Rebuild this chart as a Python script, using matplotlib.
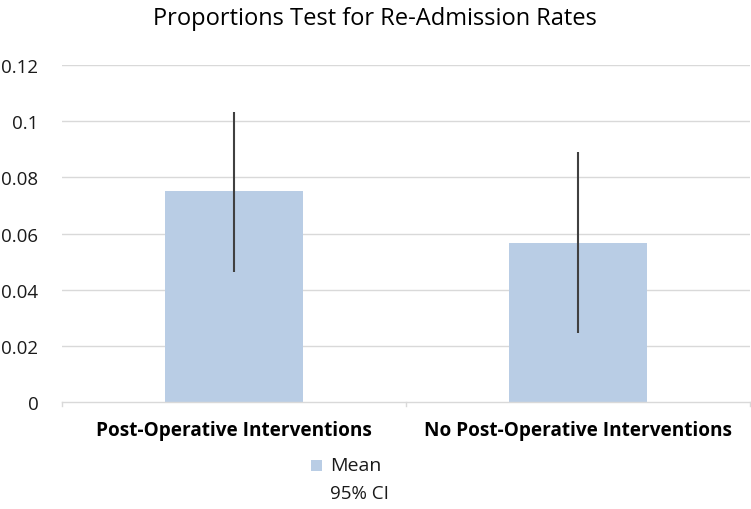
import matplotlib
matplotlib.use("Agg")
import matplotlib.pyplot as plt
from matplotlib.patches import Rectangle

categories = ["Post-Operative Interventions", "No Post-Operative Interventions"]
means = [0.075, 0.0567]
ci_lower = [0.0463, 0.0246]
ci_upper = [0.1033, 0.089]
yticks = [0, 0.02, 0.04, 0.06, 0.08, 0.1, 0.12]
ytick_labels = ["0", "0.02", "0.04", "0.06", "0.08", "0.1", "0.12"]
title = "Proportions Test for Re-Admission Rates"
legend_labels = ["Mean", "95% CI"]

plt.rcParams['font.family'] = ['Open Sans', 'DejaVu Sans']

W, H = 751, 510
fig = plt.figure(figsize=(W/100, H/100), dpi=100)
ax = fig.add_axes([62/W, 107/H, 688/W, 337/H])

bar_color = "#b9cde5"
text_color = "#1a1a1a"
x = list(range(len(categories)))
ax.bar(x, means, width=0.4, color=bar_color, zorder=2)
yerr = [[m - l for m, l in zip(means, ci_lower)], [u - m for m, u in zip(means, ci_upper)]]
ax.errorbar(x, means, yerr=yerr, fmt='none', ecolor="#404040", elinewidth=1.5, capsize=0, zorder=3)

ax.set_xlim(-0.5, 1.5)
ax.set_ylim(0, 0.12)
ax.set_yticks(yticks)
ax.set_yticklabels(ytick_labels, fontsize=13.5, color=text_color)
ax.set_xticks(x)
ax.set_xticklabels(categories, fontsize=13.7, fontweight='bold', color="#000000")
ax.tick_params(axis='y', length=0, pad=17)
ax.tick_params(axis='x', length=0, pad=13)
for ytick in yticks[1:]:
    ax.axhline(ytick, color="#d9d9d9", lw=1, zorder=1)
for s in ['top', 'right', 'left']:
    ax.spines[s].set_visible(False)
ax.spines['bottom'].set_color("#d9d9d9")
ax.spines['bottom'].set_linewidth(1)
for xb in [-0.5, 0.5, 1.5]:
    ax.plot([xb, xb], [0, -0.0015], color="#d9d9d9", lw=1, clip_on=False)

fig.text(375/W, 1 - 19/H, title, ha='center', va='center', fontsize=17, color="#000000")

# legend
fig.patches.append(Rectangle((311/W, 1 - 472/H), 11/W, 11/H, transform=fig.transFigure,
                             facecolor=bar_color, edgecolor='none'))
fig.text(330/W, 1 - 466/H, legend_labels[0], ha='left', va='center', fontsize=14, color=text_color)
fig.text(330/W, 1 - 494/H, legend_labels[1], ha='left', va='center', fontsize=13.5, color=text_color)

fig.savefig("out.png", dpi=100)
